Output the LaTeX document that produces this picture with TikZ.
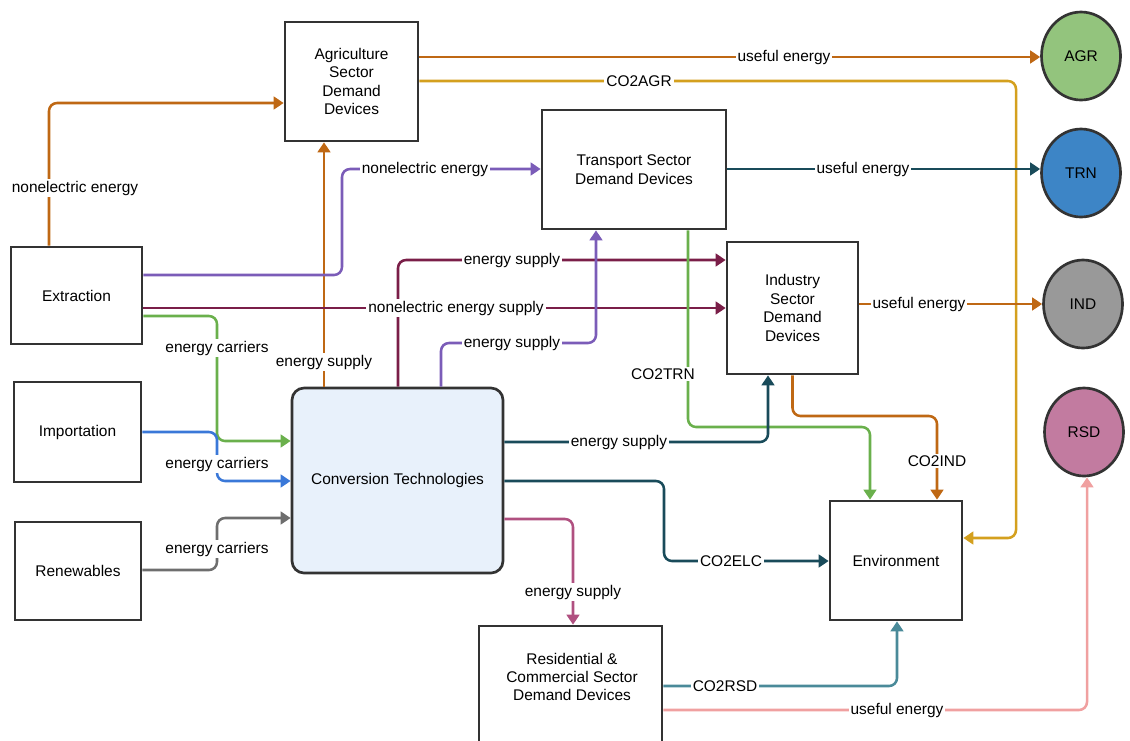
\documentclass[tikz,border=0pt]{standalone}
\usepackage{fontspec}
\setmainfont{Liberation Sans}
\usetikzlibrary{arrows.meta,shapes.geometric}

\definecolor{boxc}{RGB}{51,51,51}
\definecolor{convf}{RGB}{232,241,251}
\definecolor{corng}{RGB}{191,104,20}
\definecolor{cgold}{RGB}{212,160,30}
\definecolor{cpurp}{RGB}{123,92,184}
\definecolor{cmaroon}{RGB}{122,30,72}
\definecolor{cgreen}{RGB}{106,176,76}
\definecolor{cblue}{RGB}{58,120,216}
\definecolor{cgray}{RGB}{110,110,110}
\definecolor{ctealdk}{RGB}{25,75,90}
\definecolor{cmagenta}{RGB}{176,80,128}
\definecolor{cteallt}{RGB}{74,138,153}
\definecolor{csalmon}{RGB}{240,160,160}
\definecolor{agrf}{RGB}{147,196,125}
\definecolor{trnf}{RGB}{61,133,198}
\definecolor{indf}{RGB}{153,153,153}
\definecolor{rsdf}{RGB}{194,123,160}

\tikzset{
  box/.style={draw=boxc, line width=2pt, fill=white, align=center, inner sep=2pt},
  circ/.style={ellipse, draw=boxc, line width=2pt, minimum width=59.25pt, minimum height=66pt, inner sep=0pt},
  flow/.style={line width=1.9pt, rounded corners=6pt, -{Triangle[length=7.5pt,width=9.5pt]}},
  lbl/.style={fill=white, inner sep=1.5pt}
}

\begin{document}
\begin{tikzpicture}[x=0.75pt, y=-0.75pt, font=\fontsize{11.6}{13.8}\selectfont]
\useasboundingbox (0,0) rectangle (1130,740);
\clip (0,0) rectangle (1130,740);

% blocks
\node[box, minimum width=99.75pt, minimum height=89.25pt] (agri) at (351.5,81.5) {Agriculture\\Sector\\Demand\\Devices};
\node[box, minimum width=138pt, minimum height=89.25pt] (trans) at (634,169.5) {Transport Sector\\Demand Devices};
\node[box, minimum width=98.25pt, minimum height=99pt] (ind) at (792.5,308) {Industry\\Sector\\Demand\\Devices};
\node[box, minimum width=98.25pt, minimum height=72.75pt] (ext) at (76.5,295.5) {Extraction};
\node[box, minimum width=95.25pt, minimum height=75pt] (imp) at (77.5,432) {Importation};
\node[box, minimum width=94.5pt, minimum height=73.5pt] (ren) at (78,571) {Renewables};
\node[box, rounded corners=9pt, fill=convf, minimum width=158.25pt, minimum height=138.75pt] (conv) at (397.5,480.5) {Conversion Technologies};
\node[box, minimum width=99pt, minimum height=89.25pt] (env) at (896,560.5) {Environment};
\node[box, minimum width=137.25pt, minimum height=108pt] (res) at (570.5,698) {};
\node[align=center] (restext) at (572,677) {Residential \&\\Commercial Sector\\Demand Devices};

% end-use sinks
\node[circ, fill=agrf] (agr) at (1081,56) {AGR};
\node[circ, fill=trnf] (trn) at (1081,173) {TRN};
\node[circ, fill=indf] (indc) at (1083,304) {IND};
\node[circ, fill=rsdf] (rsd) at (1084,432) {RSD};

% routing points
\coordinate (p1) at (49,103);
\coordinate (p2) at (324,0);
\coordinate (p3a) at (142,275);
\coordinate (p3b) at (342,275);
\coordinate (p3c) at (342,169);
\coordinate (p4) at (0,308);
\coordinate (p5) at (398,260);
\coordinate (p6a) at (441,343);
\coordinate (p6b) at (596,343);
\coordinate (p7a) at (217,316);
\coordinate (p7b) at (217,441);
\coordinate (p8a) at (217,432);
\coordinate (p8b) at (217,481);
\coordinate (p9a) at (217,570);
\coordinate (p9b) at (217,518);
\coordinate (p10) at (0,57);
\coordinate (p11a) at (1016,81);
\coordinate (p11b) at (1016,538);
\coordinate (p12) at (0,169);
\coordinate (p13a) at (688,427);
\coordinate (p13b) at (870,427);
\coordinate (p14) at (0,304);
\coordinate (p15) at (937,416);
\coordinate (p16) at (768,442);
\coordinate (p17a) at (664,481);
\coordinate (p17b) at (664,561);
\coordinate (p18) at (573,519);
\coordinate (p19) at (897,686);
\coordinate (p20) at (1087,710);

% flows
\draw[flow, corng] (ext.north -| p1) -- (p1) -- (agri.west |- p1);
\draw[flow, corng] (conv.north -| p2) -- (agri.south -| p2);
\draw[flow, cpurp] (ext.east |- p3a) -- (p3b) -- (p3c) -- (trans.west |- p3c);
\draw[flow, cmaroon] (ext.east |- p4) -- (ind.west |- p4);
\draw[flow, cmaroon] (conv.north -| p5) -- (p5) -- (ind.west |- p5);
\draw[flow, cpurp] (conv.north -| p6a) -- (p6a) -- (p6b) -- (trans.south -| p6b);
\draw[flow, cgreen] (ext.east |- p7a) -- (p7a) -- (p7b) -- (conv.west |- p7b);
\draw[flow, cblue] (imp.east |- p8a) -- (p8a) -- (p8b) -- (conv.west |- p8b);
\draw[flow, cgray] (ren.east |- p9a) -- (p9a) -- (p9b) -- (conv.west |- p9b);
\draw[flow, corng] (agri.east |- p10) -- (agr.west |- p10);
\draw[flow, cgold] (agri.east |- p11a) -- (p11a) -- (p11b) -- (env.east |- p11b);
\draw[flow, ctealdk] (trans.east |- p12) -- (trn.west |- p12);
\draw[flow, cgreen] (trans.south -| p13a) -- (p13a) -- (p13b) -- (env.north -| p13b);
\draw[flow, corng] (ind.east |- p14) -- (indc.west |- p14);
\draw[flow, corng] (ind.south) -- (ind.south |- p15) -- (p15) -- (env.north -| p15);
\draw[flow, ctealdk] (conv.east |- p16) -- (p16) -- (ind.south -| p16);
\draw[flow, ctealdk] (conv.east |- p17a) -- (p17a) -- (p17b) -- (env.west |- p17b);
\draw[flow, cmagenta] (conv.east |- p18) -- (p18) -- (res.north -| p18);
\draw[flow, cteallt] (res.east |- p19) -- (p19) -- (env.south -| p19);
\draw[flow, csalmon] (res.east |- p20) -- (p20) -- (rsd.south -| p20);

% flow labels
\node[lbl] (l1) at (75,188) {nonelectric energy};
\node[lbl] (l2) at (324,362) {energy supply};
\node[lbl] (l3) at (425,169) {nonelectric energy};
\node[lbl] (l4) at (456,308) {nonelectric energy supply};
\node[lbl] (l5) at (512,260) {energy supply};
\node[lbl] (l6) at (512,343) {energy supply};
\node[lbl] (l7) at (217,348) {energy carriers};
\node[lbl] (l8) at (217,464) {energy carriers};
\node[lbl] (l9) at (217,549) {energy carriers};
\node[lbl] (l10) at (784,57) {useful energy};
\node[lbl] (l11) at (639,81) {CO2AGR};
\node[lbl] (l12) at (863,169) {useful energy};
\node[lbl] (l13) at (663,374) {CO2TRN};
\node[lbl] (l14) at (919,304) {useful energy};
\node[lbl] (l15) at (937,461) {CO2IND};
\node[lbl] (l16) at (619,442) {energy supply};
\node[lbl] (l17) at (731,561) {CO2ELC};
\node[lbl] (l18) at (573,592) {energy supply};
\node[lbl] (l19) at (725,686) {CO2RSD};
\node[lbl] (l20) at (897,710) {useful energy};
\end{tikzpicture}
\end{document}
